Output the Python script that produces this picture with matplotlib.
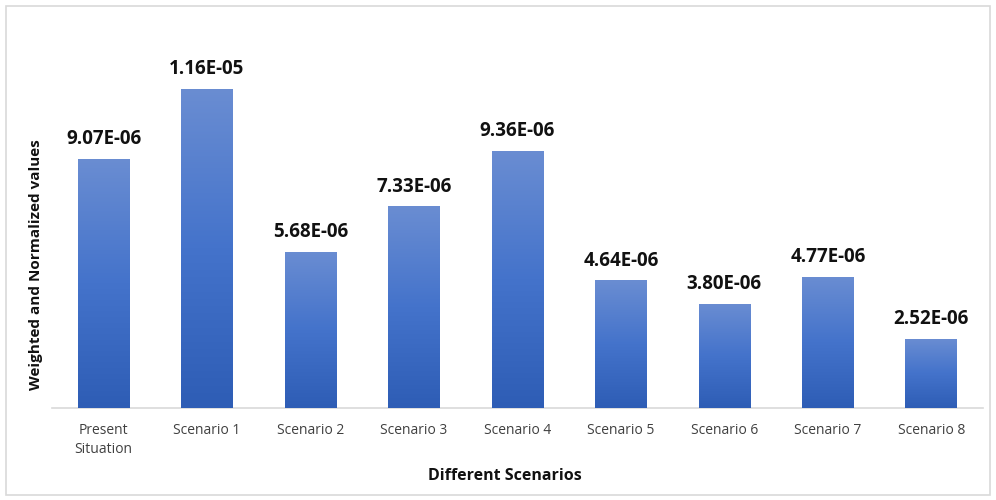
import numpy as np
import matplotlib.pyplot as plt
from matplotlib.colors import LinearSegmentedColormap
from matplotlib.patches import Rectangle

categories = ['Present\nSituation', 'Scenario 1', 'Scenario 2', 'Scenario 3', 'Scenario 4',
              'Scenario 5', 'Scenario 6', 'Scenario 7', 'Scenario 8']
values = [9.07e-06, 1.16e-05, 5.68e-06, 7.33e-06, 9.36e-06, 4.64e-06, 3.80e-06, 4.77e-06, 2.52e-06]
labels = ['9.07E-06', '1.16E-05', '5.68E-06', '7.33E-06', '9.36E-06',
          '4.64E-06', '3.80E-06', '4.77E-06', '2.52E-06']

plt.rcParams['font.family'] = ['Open Sans', 'DejaVu Sans']

fig = plt.figure(figsize=(9.96, 5), dpi=100)
ax = fig.add_axes([0.052, 0.184, 0.935, 0.77])

x = np.arange(len(values))
bars = ax.bar(x, values, width=0.5, color='#4472c4', zorder=2)

# vertical gradient in each bar, lighter at the top
cmap = LinearSegmentedColormap.from_list('grad', ['#2e5db5', '#4473cb', '#6a8dd2'])
grad = np.linspace(0, 1, 256).reshape(-1, 1)
for b in bars:
    im = ax.imshow(grad, cmap=cmap, origin='lower', aspect='auto', zorder=3,
                   extent=[b.get_x(), b.get_x() + b.get_width(), 0, b.get_height()])
    im.set_clip_path(b)

for xi, v, lab in zip(x, values, labels):
    ax.text(xi, v + 0.35e-6, lab, ha='center', va='bottom', fontsize=13.5,
            fontweight='bold', color='#111111')

ax.set_xlim(-0.5, len(values) - 0.5)
ax.set_ylim(0, 1.4e-05)
ax.set_xticks(x)
ax.set_xticklabels(categories, fontsize=10, color='#404040', linespacing=1.35)
ax.set_yticks([])
ax.tick_params(axis='x', length=0, pad=11)
for s in ['top', 'right', 'left']:
    ax.spines[s].set_visible(False)
ax.spines['bottom'].set_color('#d9d9d9')
ax.spines['bottom'].set_linewidth(1.2)

ax.set_xlabel('Different Scenarios', fontsize=11.5, fontweight='bold', color='#111111', labelpad=9)
ax.xaxis.set_label_coords(0.487, -0.155)
fig.text(0.036, 0.47, 'Weighted and Normalized values', rotation=90, ha='center', va='center',
         fontsize=11, fontweight='bold', color='#111111')

fig.patches.append(Rectangle((0.006, 0.01), 0.988, 0.978, transform=fig.transFigure,
                             fill=False, edgecolor='#d9d9d9', linewidth=1.2))

fig.savefig('out.png', dpi=100)
